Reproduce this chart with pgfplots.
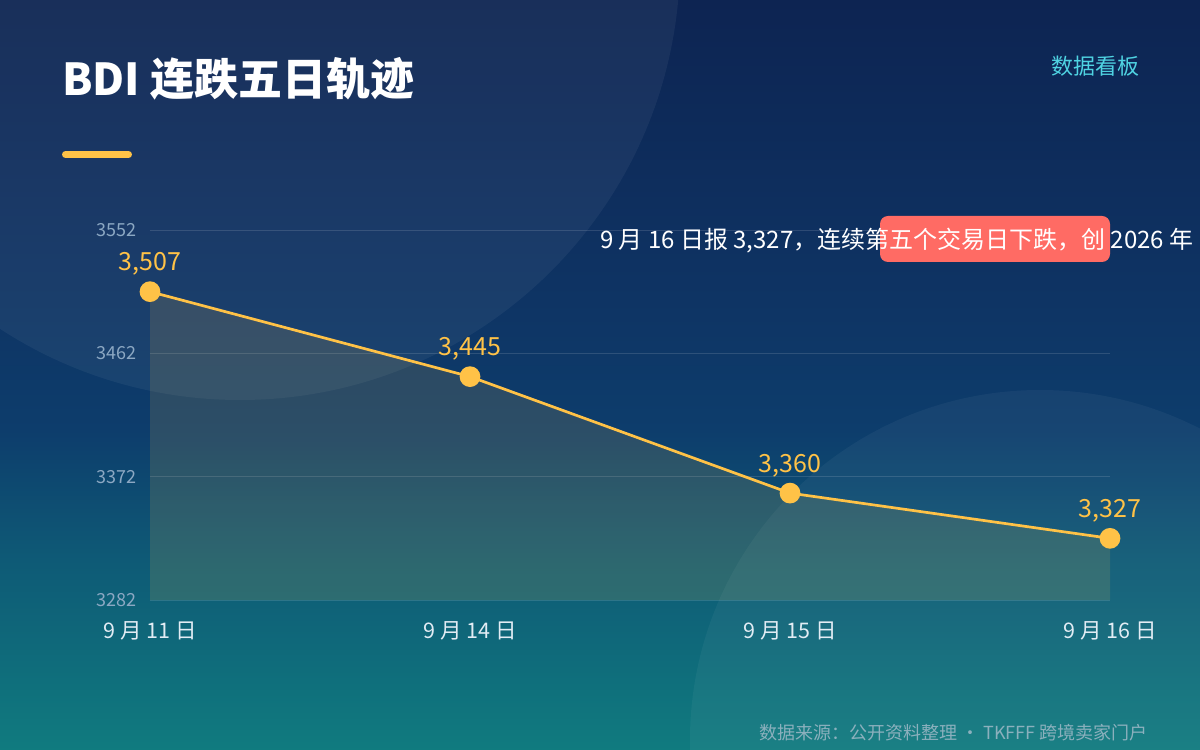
\documentclass[border=0pt]{standalone}
\usepackage{pgfplots}
\usepackage{pgfplotstable}
\pgfplotsset{compat=1.18}
\usepackage{fontspec}
\setmainfont{Noto Sans CJK SC}

\definecolor{bgA}{HTML}{107B7F}
\definecolor{bgB}{HTML}{0E5A76}
\definecolor{bgC}{HTML}{0D3D6C}
\definecolor{bgD}{HTML}{0E3464}
\definecolor{bgE}{HTML}{0D2452}
\definecolor{yellowc}{HTML}{FFC247}
\definecolor{redc}{HTML}{FF6B64}
\definecolor{cyanc}{HTML}{4FD3E2}
\definecolor{tickc}{HTML}{8CA8C3}
\definecolor{xlabc}{HTML}{E2ECF4}
\definecolor{footc}{HTML}{8BB0BD}

\pgfdeclareverticalshading{bgshade}{100bp}{color(0bp)=(bgA); color(25bp)=(bgA); color(37.7bp)=(bgB); color(46.3bp)=(bgC); color(55bp)=(bgD); color(75bp)=(bgE); color(100bp)=(bgE)}

\pgfplotstableread{
x y lab
0 3507 3,507
1 3445 3,445
2 3360 3,360
3 3327 3,327
}\bdidata

\begin{document}
\begin{tikzpicture}
\useasboundingbox (0pt,0pt) rectangle (1200pt,750pt);
\shade[shading=bgshade] (0pt,0pt) rectangle (1200pt,750pt);
\begin{scope}
\clip (0pt,0pt) rectangle (1200pt,750pt);
\fill[white, opacity=0.05] (240pt,790pt) circle[radius=440pt];
\fill[white, opacity=0.045] (1040pt,10pt) circle[radius=350pt];
\end{scope}

\node[anchor=base west, inner sep=0pt, text=white, font=\fontsize{44}{52}\selectfont\bfseries] at (62pt,654pt) {BDI 连跌五日轨迹};
\draw[line width=7pt, line cap=round, yellowc] (65.5pt,595.5pt) -- (128.5pt,595.5pt);
\node[anchor=base east, inner sep=0pt, text=cyanc, font=\fontsize{22}{26}\selectfont] at (1140pt,675pt) {数据看板};

\begin{axis}[
  at={(150pt,150pt)}, anchor=south west,
  scale only axis, width=960pt, height=370pt,
  xmin=0, xmax=3, ymin=3282, ymax=3552,
  axis line style={draw=none},
  tick style={draw=none},
  major tick length=0pt,
  ytick={3282,3372,3462,3552},
  xtick={0,1,2,3},
  xticklabels={9 月 11 日,9 月 14 日,9 月 15 日,9 月 16 日},
  ymajorgrids,
  grid style={white, opacity=0.13, line width=0.8pt},
  /pgf/number format/assume math mode=true,
  /pgf/number format/1000 sep={},
  yticklabel style={font=\fontsize{18}{21}\selectfont, text=tickc, anchor=east, inner sep=0pt, xshift=-13pt},
  xticklabel style={font=\fontsize{21.5}{25}\selectfont, text=xlabc, anchor=north, inner sep=0pt, yshift=-21pt},
  clip=false,
]
\addplot[draw=none, fill=yellowc, fill opacity=0.13] table[x=x,y=y]{\bdidata} \closedcycle;
\addplot[yellowc, line width=2.7pt, mark=*, mark size=9pt,
  mark options={fill=yellowc, draw=none},
  point meta=explicit symbolic,
  nodes near coords,
  nodes near coords style={font=\fontsize{25}{29}\selectfont, text=yellowc, anchor=base, inner sep=0pt, yshift=21pt}]
  table[x=x,y=y,meta=lab]{\bdidata};
\end{axis}

\fill[redc, rounded corners=8pt] (880pt,488pt) rectangle (1110pt,534pt);
\node[anchor=base west, inner sep=0pt, text=white, font=\fontsize{24}{28}\selectfont] at (600pt,501pt) {9 月 16 日报 3,327，连续第五个交易日下跌，创 2026 年};
\node[anchor=base east, inner sep=0pt, text=footc, font=\fontsize{18}{21}\selectfont] at (1148pt,10pt) {数据来源：公开资料整理 · TKFFF 跨境卖家门户};
\end{tikzpicture}
\end{document}
